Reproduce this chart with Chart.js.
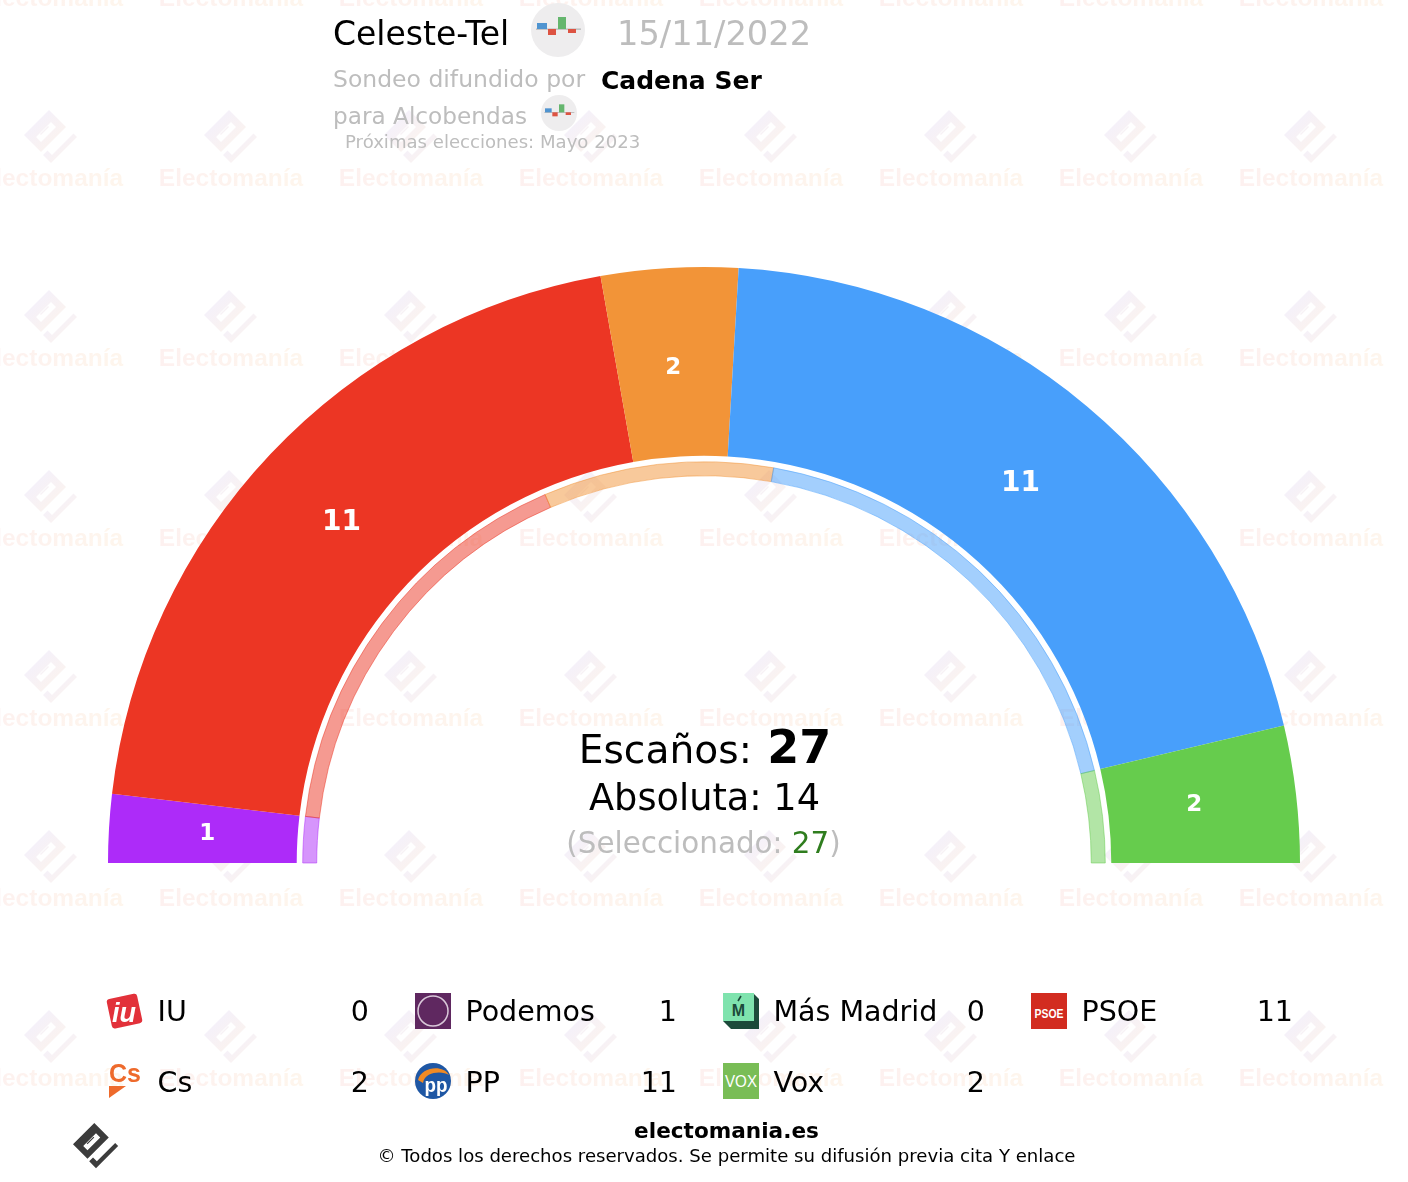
<!DOCTYPE html>
<html>
<head>
<meta charset="utf-8">
<title>Celeste-Tel Alcobendas</title>
<script src="https://cdn.jsdelivr.net/npm/chart.js@4"></script>
<style>
  html, body { margin: 0; padding: 0; background: #fff; }
  body { width: 1408px; height: 1182px; position: relative; overflow: hidden; font-family: "DejaVu Sans", sans-serif; }
  #wm, #chartBox { position: absolute; left: 0; top: 0; width: 1408px; height: 1182px; }
  .t { position: absolute; white-space: nowrap; line-height: 1; }
  .c { transform: translateX(-50%); }
  .r { transform: translateX(-100%); }
  .grey { color: #bdbdbd; }
  .wmText { position: absolute; width: 180px; text-align: center; font: bold 24.5px "Liberation Sans", sans-serif;
    line-height: 1; background: linear-gradient(90deg, #fdf0f0, #fef6ec); -webkit-background-clip: text; background-clip: text; color: transparent; }
  svg { position: absolute; overflow: visible; }
</style>
</head>
<body>
<div id="wm"></div>
<div id="chartBox"><canvas id="seatChart" width="1408" height="1182"></canvas></div>

<div class="t" style="left:333px;top:17px;font-size:33px">Celeste-Tel</div>
<div class="t grey" style="left:617px;top:17px;font-size:33.7px">15/11/2022</div>
<div class="t grey" style="left:333px;top:68px;font-size:23.5px">Sondeo difundido por</div>
<div class="t" style="left:601px;top:67.5px;font-size:25px;font-weight:bold">Cadena Ser</div>
<div class="t grey" style="left:333px;top:104px;font-size:23.2px">para Alcobendas</div>
<div class="t grey" style="left:345px;top:133px;font-size:18.1px;">Próximas elecciones: Mayo 2023</div>

<div class="t c" style="left:705px;top:724px;font-size:39.2px">Escaños: <b style="font-size:46px;margin-left:3px">27</b></div>
<div class="t c" style="left:704.5px;top:780px;font-size:36.7px">Absoluta: 14</div>
<div class="t c grey" style="left:703.5px;top:829px;font-size:29.4px">(Seleccionado: <span style="color:#2f7d1e">27</span>)</div>

<div class="t c" style="left:726.5px;top:1120px;font-size:21.6px;font-weight:bold">electomania.es</div>
<div class="t c" style="left:726.5px;top:1147px;font-size:18.1px">© Todos los derechos reservados. Se permite su difusión previa cita Y enlace</div>

<svg style="left:531px;top:3px" width="54" height="54" viewBox="0 0 54 54"><use href="#pollIcon"/></svg>
<svg style="left:541px;top:95px" width="36" height="36" viewBox="0 0 54 54"><use href="#pollIcon"/></svg>
<svg style="left:73px;top:1123px" width="46" height="46" viewBox="0 0 54 54"><use href="#logoMark" fill="#3c3c3c"/></svg>

<svg width="0" height="0">
  <defs>
    <g id="pollIcon">
      <circle cx="27" cy="27" r="27" fill="#eeedee"/>
      <rect x="5" y="25.6" width="45" height="1" fill="#aaa"/>
      <rect x="6" y="20" width="10" height="6" fill="#4f94d0"/>
      <rect x="17" y="26" width="8" height="6" fill="#dd5342"/>
      <rect x="27" y="14" width="8" height="12" fill="#65b66e"/>
      <rect x="37" y="26" width="8" height="4" fill="#dd5342"/>
    </g>
    <g id="logoMark">
      <path fill-rule="evenodd" d="M25 0 L42 17 L17 42 L0 25 Z M27 12 L12 27 L17 32 L32 17 Z M24 16 L16 24 L17 25 L25 17 Z"/>
      <path d="M49.5 23.5 L53 27 L27 53 L19 45 L23.5 40.5 L28 45 Z"/>
    </g>
    <linearGradient id="wmGrad" x1="0" y1="0" x2="1" y2="1">
      <stop offset="0.3" stop-color="#f5f1f9"/><stop offset="0.8" stop-color="#fbf3ef"/>
    </linearGradient>
  </defs>
</svg>

<script>
// main ring, left to right
const ringParties = ['Podemos', 'PSOE', 'Cs', 'PP', 'Vox'];
const seats = [1, 11, 2, 11, 2];
// thin inner ring
const innerSeats = [1, 9, 5, 10, 2];
const ringColors = ['#ad2bf9', '#ec3624', '#f29438', '#489ffb', '#66cc4d'];
const innerColors = ['rgba(173,43,249,.5)', 'rgba(236,54,36,.5)', 'rgba(242,148,56,.5)', 'rgba(72,159,251,.5)', 'rgba(102,204,77,.5)'];

// legend table
const legendParties = ['IU', 'Podemos', 'Más Madrid', 'PSOE', 'Cs', 'PP', 'Vox'];
const legendSeats = [0, 1, 0, 11, 2, 11, 2];

const icons = {
  'IU': '<rect x="2" y="3" width="31" height="30" rx="3" fill="#e2313a" transform="rotate(-12 18 18)"/><text x="17" y="29" font-size="27" font-weight="bold" font-style="italic" text-anchor="middle" fill="#fff" font-family="Liberation Sans">iu</text>',
  'Podemos': '<rect width="36" height="36" fill="#5f2860"/><circle cx="18" cy="18" r="15" fill="none" stroke="#d9c8d9" stroke-width="1.5"/>',
  'Más Madrid': '<path d="M0 0H30L36 6V36H8L0 28Z" fill="#1c4a3a"/><rect width="31" height="28" fill="#7fe3ae"/><text x="15.5" y="23" font-size="16" font-weight="bold" text-anchor="middle" fill="#1c4a3a" font-family="Liberation Sans">M</text><path d="M15 8L18 3" stroke="#1c4a3a" stroke-width="1.6"/>',
  'PSOE': '<rect width="36" height="36" fill="#d22c20"/><text x="18" y="25" font-size="12.5" font-weight="bold" text-anchor="middle" fill="#fff" font-family="Liberation Sans" textLength="29" lengthAdjust="spacingAndGlyphs">PSOE</text>',
  'Cs': '<text x="2" y="19" font-size="25" font-weight="bold" fill="#ee6a2c" font-family="Liberation Sans" textLength="32">Cs</text><path d="M2 23H19L2 35Z" fill="#ee6a2c"/>',
  'PP': '<circle cx="18" cy="18" r="18" fill="#1f57a4"/><path d="M3 17C6 4 28 1 34 12C28 8 10 8 8 20Z" fill="#f08a24"/><text x="21" y="29" font-size="20" font-weight="bold" text-anchor="middle" fill="#fff" font-family="Liberation Sans" textLength="23" lengthAdjust="spacingAndGlyphs">pp</text>',
  'Vox': '<rect width="36" height="36" fill="#79bd56"/><text x="18" y="24" font-size="17" text-anchor="middle" fill="#fff" font-family="Liberation Sans" textLength="32" lengthAdjust="spacingAndGlyphs">VOX</text>'
};

// watermark tiles
const wm = document.getElementById('wm');
for (let col = 0; col < 8; col++) {
  for (let row = 0; row < 7; row++) {
    const x = -39 + col * 180, y = -2 + row * 180;
    const txt = document.createElement('div');
    txt.className = 'wmText';
    txt.style.left = x + 'px';
    txt.style.top = (y - 12) + 'px';
    txt.textContent = 'Electomanía';
    wm.appendChild(txt);
    if (row < 6) {
      wm.insertAdjacentHTML('beforeend', '<svg style="left:' + (x + 63) + 'px;top:' + (y + 112) + 'px" width="54" height="54" viewBox="0 0 54 54"><use href="#logoMark" fill="url(#wmGrad)"/></svg>');
    }
  }
}

// legend
legendParties.forEach(function (name, i) {
  const col = i % 4, row = Math.floor(i / 4);
  const x = 107 + col * 308, y = 993 + row * 70;
  document.body.insertAdjacentHTML('beforeend',
    '<svg style="left:' + x + 'px;top:' + y + 'px" width="36" height="36" viewBox="0 0 36 36">' + icons[name] + '</svg>' +
    '<div class="t" style="left:' + (x + 50.5) + 'px;top:' + (y + 5 + row) + 'px;font-size:28.5px">' + name + '</div>' +
    '<div class="t r" style="left:' + (x + 262) + 'px;top:' + (y + 5 + row) + 'px;font-size:28.5px">' + legendSeats[i] + '</div>');
});

// seat numbers, pulled a little towards the centre of the half circle
const seatLabels = {
  id: 'seatLabels',
  afterDatasetsDraw(chart) {
    const ctx = chart.ctx;
    const meta = chart.getDatasetMeta(0);
    const cx = meta.data[0].x, cy = meta.data[0].y;
    ctx.save();
    ctx.fillStyle = '#fff';
    ctx.textAlign = 'center';
    ctx.textBaseline = 'middle';
    meta.data.forEach(function (arc, i) {
      const p = arc.getCenterPoint();
      const x = p.x + (cx - p.x) * 0.012 - 2;
      const y = p.y + (cy - p.y) * 0.012;
      ctx.font = 'bold ' + (seats[i] > 9 ? 28 : 23) + 'px "DejaVu Sans"';
      ctx.fillText(seats[i], x, y);
    });
    ctx.restore();
  }
};

new Chart(document.getElementById('seatChart'), {
  type: 'doughnut',
  data: {
    labels: ringParties,
    datasets: [
      { data: seats, backgroundColor: ringColors, borderColor: ringColors, borderWidth: 0, weight: 188.7 },
      { data: [27], backgroundColor: 'transparent', borderWidth: 0, weight: 6 },
      { data: innerSeats, backgroundColor: innerColors, borderColor: innerColors, borderWidth: 1, weight: 14 }
    ]
  },
  options: {
    responsive: false,
    animation: false,
    rotation: -90,
    circumference: 180,
    cutout: '64.98%',
    layout: { padding: { left: 108, right: 108, top: 267, bottom: 319 } },
    plugins: { legend: { display: false }, tooltip: { enabled: false } }
  },
  plugins: [seatLabels]
});
</script>
</body>
</html>
